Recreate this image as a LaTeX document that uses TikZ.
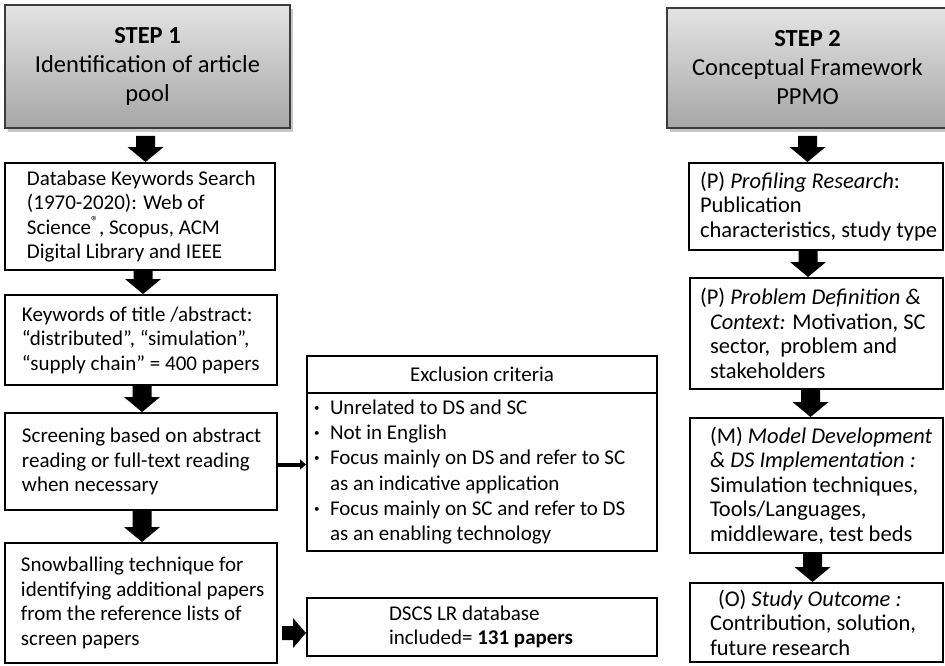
\documentclass[tikz,border=0pt]{standalone}
\usepackage{fontspec}
\setmainfont{Carlito}
\usetikzlibrary{arrows.meta,shadows,calc}
\definecolor{hdtop}{RGB}{228,228,228}
\definecolor{hdbot}{RGB}{166,166,166}
\definecolor{hdline}{RGB}{60,60,60}
\newcommand{\vblockarrow}[2]{%
  \path (#1) coordinate (ba) (#2) coordinate (bb);
  \fill[black] ([xshift=-9.5pt]ba) -- ([xshift=9.5pt]ba) -- ([xshift=9.5pt,yshift=15pt]bb)
    -- ([xshift=18pt,yshift=15pt]bb) -- (bb) -- ([xshift=-18pt,yshift=15pt]bb)
    -- ([xshift=-9.5pt,yshift=15pt]bb) -- cycle;}
\newcommand{\bul}{\makebox[19pt][l]{\hspace{3pt}\raisebox{3pt}{\fontsize{11}{11}\selectfont •}}}
\newcommand{\padbox}[3]{\parbox{#1}{\leftskip=#2\relax\parindent=0pt\relax #3}}
\begin{document}
\begin{tikzpicture}[x=1pt,y=-1pt,
  hdr/.style={draw=hdline, line width=1.6pt, top color=hdtop, bottom color=hdbot,
    align=center, font=\fontsize{24.5}{29}\selectfont, inner sep=0pt,
    drop shadow={shadow xshift=3pt, shadow yshift=-4pt, fill=black, opacity=0.22}},
  lbox/.style={draw=black, line width=2pt, inner sep=0pt,
    font=\fontsize{21}{24.5}\selectfont},
  rbox/.style={draw=black, line width=2pt, inner sep=0pt,
    font=\fontsize{22.5}{24.5}\selectfont},
  thinarrow/.style={line width=4pt, -{Triangle[width=10pt,length=6pt]}}
]
\useasboundingbox (0,0) rectangle (945,665);

% Step 1 column
\node[hdr, minimum width=285pt, minimum height=123pt] (s1) at (147.5,66.5)
  {\textbf{STEP 1}\\Identification of article\\pool};
\node[lbox, minimum width=270pt, minimum height=107pt] (db) at (140,216.5)
  {\padbox{270pt}{22pt}{Database Keywords Search\\(1970-2020): Web of\\Science\textsuperscript{®}, Scopus, ACM\\Digital Library and IEEE}};
\node[lbox, minimum width=272pt, minimum height=90pt] (kw) at (141,340)
  {\padbox{272pt}{17pt}{Keywords of title /abstract:\\“distributed”, “simulation”,\\“supply chain” = 400 papers}};
\node[lbox, minimum width=272pt, minimum height=97pt] (scr) at (141,461.5)
  {\padbox{272pt}{17pt}{Screening based on abstract\\reading or full-text reading\\when necessary}};
\node[lbox, minimum width=272pt, minimum height=120pt] (snow) at (141,603)
  {\padbox{272pt}{16pt}{Snowballing technique for\\identifying additional papers\\from the reference lists of\\screen papers}};

% Exclusion
\node[lbox, minimum width=350pt, minimum height=37pt] (exh) at (482,374.5)
  {Exclusion criteria};
\node[lbox, minimum width=350pt, minimum height=158pt,
  font=\fontsize{21}{25.3}\selectfont] (exb) at (482,472)
  {\padbox{350pt}{4pt}{\bul Unrelated to DS and SC\\
   \bul Not in English\\
   \bul Focus mainly on DS and refer to SC\\
   \hspace*{19pt}as an indicative application\\
   \bul Focus mainly on SC and refer to DS\\
   \hspace*{19pt}as an enabling technology}};
\node[lbox, minimum width=350pt, minimum height=58pt] (dscs) at (482,627)
  {\padbox{350pt}{82pt}{DSCS LR database\\included= \textbf{131 papers}}};

% Step 2 column
\node[hdr, minimum width=281pt, minimum height=120pt] (s2) at (807.5,68)
  {\textbf{STEP 2}\\Conceptual Framework\\PPMO};
\node[rbox, minimum width=254pt, minimum height=87pt] (prof) at (816,206.5)
  {\padbox{254pt}{11pt}{(P) \textit{Profiling Research}:\\Publication\\characteristics, study type}};
\node[rbox, minimum width=253pt, minimum height=111pt] (prob) at (816.5,333.5)
  {\padbox{253pt}{10pt}{(P) \textit{Problem Definition \&}\\\hspace*{10pt}\textit{Context:} Motivation, SC\\\hspace*{10pt}sector,~ problem and\\\hspace*{10pt}stakeholders}};
\node[rbox, minimum width=253pt, minimum height=135pt] (model) at (816.5,485.5)
  {\padbox{253pt}{20pt}{(M) \textit{Model Development}\\\textit{\& DS Implementation :}\\Simulation techniques,\\Tools/Languages,\\middleware, test beds}};
\node[rbox, minimum width=253pt, minimum height=79pt] (out) at (816.5,622.5)
  {\padbox{253pt}{20pt}{\hspace*{8pt}(O) \textit{Study Outcome :}\\Contribution, solution,\\future research}};

% Block arrows
\vblockarrow{$(s1.south)+(-2,7)$}{$(s1.south |- db.north)+(-2,0)$}
\vblockarrow{$(db.south)+(3,0)$}{$(db.south |- kw.north)+(3,0)$}
\vblockarrow{$(kw.south)+(1,0)$}{$(kw.south |- scr.north)+(1,0)$}
\vblockarrow{$(scr.south)+(1,0)$}{$(scr.south |- snow.north)+(1,0)$}
\vblockarrow{$(s2.south)+(0,7)$}{$(s2.south |- prof.north)$}
\vblockarrow{$(prof.south)+(-8,0)$}{$(prof.south |- prob.north)+(-8,0)$}
\vblockarrow{$(prob.south)+(-6,0)$}{$(prob.south |- model.north)+(-6,0)$}
\vblockarrow{$(model.south)+(-4,0)$}{$(model.south |- out.north)+(-4,0)$}

% Horizontal arrows
\draw[thinarrow] ($(scr.east)+(0,3)$) -- ($(scr.east -| exb.west)+(0,3)$);
\path ($(snow.east)+(4,30)$) coordinate (ha) ($(dscs.west)+(0,6)$) coordinate (hb);
\fill[black] ([yshift=7pt]ha) -- ([xshift=-13pt,yshift=7pt]hb) -- ([xshift=-13pt,yshift=15pt]hb)
  -- (hb) -- ([xshift=-13pt,yshift=-15pt]hb) -- ([xshift=-13pt,yshift=-7pt]hb)
  -- ([yshift=-7pt]ha) -- cycle;
\end{tikzpicture}
\end{document}
